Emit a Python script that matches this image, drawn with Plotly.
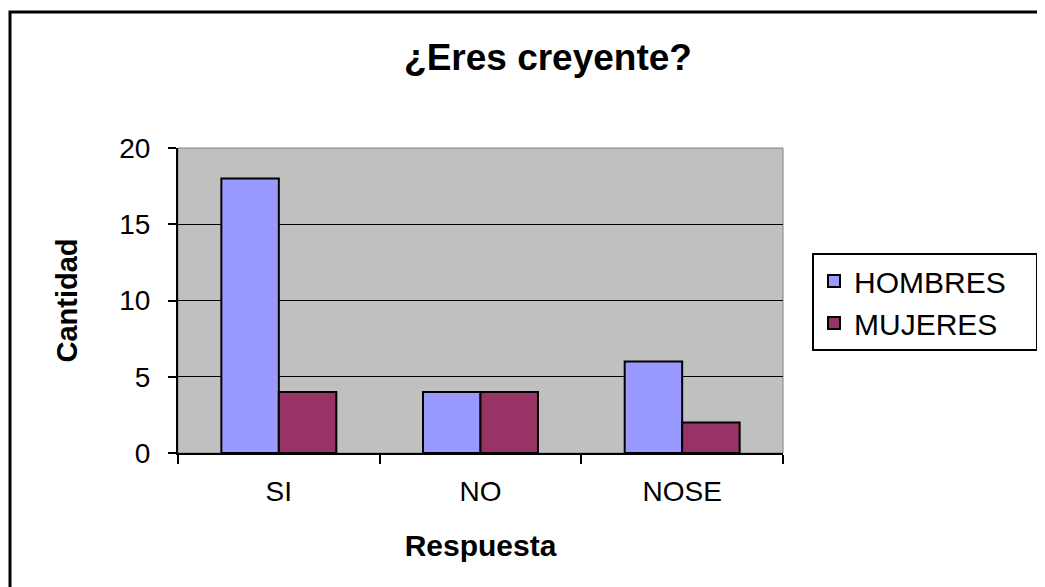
import plotly.graph_objects as go

categories = ["SI", "NO", "NOSE"]
hombres = [18, 4, 6]
mujeres = [4, 4, 2]
y_ticks = [0, 5, 10, 15, 20]

# page shows the figure offset by 8px (body margin); work in figure pixels
OFF = 8
W, H = 1045, 587
L, R, T, B = 178 - OFF, 783 - OFF, 148 - OFF, 453 - OFF
pw, ph = R - L, B - T

def px(x):
    return (x - OFF - L) / pw

def py(y):
    return (B - (y - OFF)) / ph

fig = go.Figure()
fig.add_trace(go.Bar(name="HOMBRES\u00a0\u00a0\u00a0", x=categories, y=hombres,
                     marker=dict(color="#9999FF", line=dict(color="black", width=2))))
fig.add_trace(go.Bar(name="MUJERES", x=categories, y=mujeres,
                     marker=dict(color="#993366", line=dict(color="black", width=2))))

font = "Arial, Liberation Sans, sans-serif"
fig.update_layout(
    width=W, height=H,
    margin=dict(l=L, r=W - R, t=T, b=H - B),
    paper_bgcolor="white", plot_bgcolor="#C0C0C0",
    barmode="group", bargap=0.43, bargroupgap=0,
    font=dict(family=font, color="black", size=28),
    title=dict(text="<b>¿Eres creyente?</b>", x=px(548), xref="paper", xanchor="center",
               y=1 - (57 - OFF) / H, yanchor="middle", font=dict(size=37, family=font)),
    legend=dict(x=px(812), y=py(253), xanchor="left", yanchor="top",
                bordercolor="black", borderwidth=2, bgcolor="white",
                font=dict(size=30, family=font), tracegroupgap=0),
    showlegend=True,
)
fig.update_xaxes(type="category", showline=True, linecolor="black", linewidth=2,
                 ticks="outside", ticklen=9, tickwidth=2, tickcolor="black",
                 tickson="boundaries", tickfont=dict(size=28), showgrid=False,
                 ticklabelstandoff=12, automargin=False,
                 title=dict(text="<b>Respuesta</b>", font=dict(size=30), standoff=29))
fig.update_yaxes(range=[0, 20], tickvals=y_ticks, showline=True, linecolor="black", linewidth=2,
                 ticks="outside", ticklen=8, tickwidth=2, tickcolor="black",
                 showgrid=True, gridcolor="black", gridwidth=1, zeroline=False,
                 tickfont=dict(size=28), ticklabelstandoff=12, automargin=False,
                 title=dict(text="<b>Cantidad</b>", font=dict(size=29, family=font),
                            standoff=33))

# plot area border (gray) and outer chart border
fig.add_shape(type="rect", xref="paper", yref="paper", x0=0, x1=1, y0=0, y1=1,
              line=dict(color="#808080", width=1), layer="below")
fig.add_shape(type="rect", xref="paper", yref="paper",
              x0=px(10), x1=px(1070), y0=py(610), y1=py(12),
              line=dict(color="black", width=3), fillcolor="rgba(0,0,0,0)")

fig.write_html("out.html")
